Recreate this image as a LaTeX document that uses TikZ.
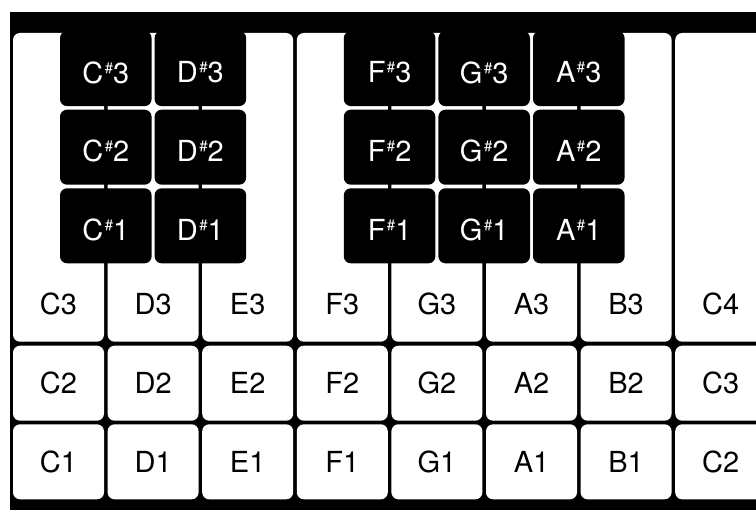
\documentclass[tikz,border=0pt]{standalone}
\usepackage{fontspec}
\setmainfont{TeX Gyre Heros}

% small raised sharp sign for the black keys
\newcommand{\shp}{\kern1.5pt{\fontsize{15}{15}\selectfont\raisebox{10pt}{\#}}}

\begin{document}
\begin{tikzpicture}[
  x=1pt, y=-1pt,
  whitekey/.style={fill=white, rounded corners=7pt},
  blackkey/.style={fill=black, rounded corners=7pt},
  keylabel/.style={font=\fontsize{29}{29}\selectfont, inner sep=0pt}
]
% Page and keyboard frame
\useasboundingbox (0,0) rectangle (756,510);
\fill[white] (0,0) rectangle (756,510);
\clip (0,0) rectangle (756,510);
\fill[black] (10,12) rectangle (756,510);

% White keys: the top row runs up under the black keys
\foreach \n [count=\i from 0] in {C,D,E,F,G,A,B,C} {
  \pgfmathsetmacro{\xl}{13+94.6*\i}
  \pgfmathsetmacro{\xm}{\xl+45.5}
  \fill[whitekey] (\xl,33) rectangle ++(91,308.7);
  \fill[whitekey] (\xl,345.7) rectangle ++(91,75);
  \fill[whitekey] (\xl,424.3) rectangle ++(91,75);
  \pgfmathtruncatemacro{\oct}{\i==7 ? 1 : 0}
  \foreach \r/\y in {1/461.8, 2/383.2, 3/304.2} {
    \pgfmathtruncatemacro{\o}{\r+\oct}
    \node[keylabel] (w\i\r) at (\xm,\y) {\n\o};
  }
}

% Black keys, centred on the gaps between white keys
\foreach \n/\i in {C/0, D/1, F/3, G/4, A/5} {
  \pgfmathsetmacro{\xm}{11.2+94.6*(\i+1)}
  \foreach \r in {1,2,3} {
    \pgfmathsetmacro{\yb}{263.3-78.6*(\r-1)}
    \fill[blackkey] (\xm-45.8,\yb-75) rectangle (\xm+45.8,\yb);
    \node[keylabel, white] (b\i\r) at (\xm,\yb-33.5) {\n\shp\r};
  }
}
\end{tikzpicture}
\end{document}
